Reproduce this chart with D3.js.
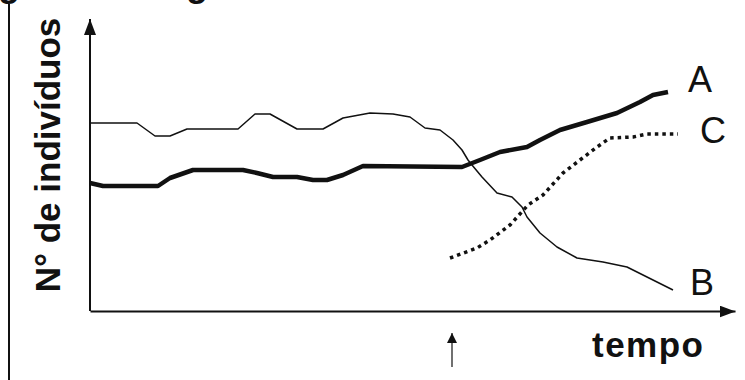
<!DOCTYPE html>
<html lang="pt">
  <head>
    <meta charset="UTF-8" />
    <title>N° de indivíduos x tempo</title>
    <style>
      body {
        margin: 0;
        background: #fff;
        font-family: 'Liberation Sans', Arial, sans-serif;
      }
      svg {
        display: block;
      }
      .axis path {
        stroke: #111;
        stroke-width: 2px;
      }
      .serie {
        fill: none;
        stroke: #111;
      }
      .lbl {
        font-size: 36px;
        fill: #111;
      }
      .titulo {
        font-size: 35px;
        font-weight: bold;
        fill: #111;
      }
    </style>
  </head>
  <body>
    <script src="https://d3js.org/d3.v7.min.js"></script>
    <script>
      // valores (tempo e nº de indivíduos em unidades arbitrárias)
      const tempoA = [0, 2.6, 13.6, 16, 20.6, 30.6, 33.4, 36.6, 41.4, 44.6, 47.4, 50.6, 54.6, 74.4, 78, 82, 87.4, 90, 94, 99.4, 105.4, 110, 112.6, 115.6];
      const valoresA = [64, 62.5, 62.5, 66.5, 70.5, 70.5, 69, 67, 67, 65.5, 65.5, 68, 72.5, 72, 75.5, 79.5, 82, 85.5, 90.5, 94.5, 99, 104.5, 108, 109.5];

      const tempoB = [0, 9.4, 13, 16, 19.4, 29.6, 33, 36, 41.4, 46.6, 50.6, 56, 60.6, 64, 67, 70, 72.6, 74.4, 75.6, 76.4, 78.4, 81.4, 84.4, 86.4, 87.4, 90, 93.4, 97.4, 102.6, 107.4, 111.4, 116.6];
      const valoresB = [94, 94, 87.5, 87.5, 91, 91, 98.5, 98.5, 91, 91, 96.5, 99, 98.5, 97, 91.5, 90.5, 85.5, 80.5, 75.5, 73, 67, 59, 57, 52, 47, 39, 32, 26.5, 24.5, 22, 17, 10.5];

      const tempoC = [72, 77.4, 80, 84, 87.6, 90.6, 94.6, 98, 101.4, 104, 108.6, 111.4, 117.6];
      const valoresC = [26.5, 31.5, 35.5, 43, 53, 58, 69, 75.5, 82, 86.5, 87, 88.5, 88.5];

      const rotulos = ['A', 'B', 'C'];
      const marcoTempo = 72.4; // seta pequena sob o eixo do tempo

      const W = 745;
      const H = 380;

      const x = d3.scaleLinear().domain([0, 129]).range([90, 735]);
      const y = d3.scaleLinear().domain([0, 146]).range([311, 19]);

      const svg = d3.select('body').append('svg').attr('width', W).attr('height', H);

      // pontas de seta
      const defs = svg.append('defs');
      defs
        .append('marker')
        .attr('id', 'seta')
        .attr('viewBox', '0 0 16 12')
        .attr('refX', 16)
        .attr('refY', 6)
        .attr('markerWidth', 16)
        .attr('markerHeight', 12)
        .attr('markerUnits', 'userSpaceOnUse')
        .attr('orient', 'auto')
        .append('path')
        .attr('d', 'M0,0L16,6L0,12Z')
        .attr('fill', '#111');
      defs
        .append('marker')
        .attr('id', 'setaPeq')
        .attr('viewBox', '0 0 10 10')
        .attr('refX', 10)
        .attr('refY', 5)
        .attr('markerWidth', 10)
        .attr('markerHeight', 10)
        .attr('markerUnits', 'userSpaceOnUse')
        .attr('orient', 'auto')
        .append('path')
        .attr('d', 'M0,0L10,5L0,10Z')
        .attr('fill', '#111');

      // restos do título cortado no topo (como na figura original)
      svg.append('text').attr('x', -2).attr('y', -4).attr('font-size', 36).attr('font-weight', 'bold').attr('fill', '#111').text('g');
      svg.append('text').attr('x', 186).attr('y', -4).attr('font-size', 36).attr('font-weight', 'bold').attr('fill', '#111').text('g');

      // borda esquerda
      svg.append('line').attr('x1', 9).attr('x2', 9).attr('y1', 4).attr('y2', H).attr('stroke', '#111').attr('stroke-width', 2);

      // eixos (sem marcas)
      const eixoX = svg
        .append('g')
        .attr('class', 'axis')
        .attr('transform', `translate(0,${y(0)})`)
        .call(d3.axisBottom(x).tickValues([]).tickSizeOuter(0));
      eixoX.select('.domain').attr('marker-end', 'url(#seta)');

      const eixoY = svg
        .append('g')
        .attr('class', 'axis')
        .attr('transform', `translate(${x(0)},0)`)
        .call(d3.axisLeft(y).tickValues([]).tickSizeOuter(0));
      eixoY.select('.domain').attr('d', `M0,${y(0)}V${y(146)}`).attr('marker-end', 'url(#seta)');

      // séries
      const linha = d3
        .line()
        .x((d) => x(d[0]))
        .y((d) => y(d[1]));

      const series = [
        { nome: 'A', pts: d3.zip(tempoA, valoresA), larg: 4.5, dash: null, dx: 20, dy: 0 },
        { nome: 'B', pts: d3.zip(tempoB, valoresB), larg: 1.5, dash: null, dx: 17, dy: 5 },
        { nome: 'C', pts: d3.zip(tempoC, valoresC), larg: 3.5, dash: '3.5 4', dx: 22, dy: 9 },
      ];

      svg
        .append('g')
        .selectAll('path')
        .data(series)
        .join('path')
        .attr('class', 'serie')
        .attr('d', (d) => linha(d.pts))
        .attr('stroke-width', (d) => d.larg)
        .attr('stroke-dasharray', (d) => d.dash)
        .attr('stroke-linejoin', 'round');

      svg
        .append('g')
        .selectAll('text')
        .data(series.filter((s) => rotulos.includes(s.nome)))
        .join('text')
        .attr('class', 'lbl')
        .attr('x', (d) => x(d.pts[d.pts.length - 1][0]) + d.dx)
        .attr('y', (d) => y(d.pts[d.pts.length - 1][1]) + d.dy)
        .text((d) => d.nome);

      // título do eixo Y
      svg
        .append('text')
        .attr('class', 'titulo')
        .attr('text-anchor', 'middle')
        .attr('transform', 'translate(60,155) rotate(-90)')
        .text('N° de indivíduos');

      // título do eixo X
      svg
        .append('text')
        .attr('class', 'titulo')
        .attr('font-size', 36)
        .attr('letter-spacing', 1.5)
        .attr('x', 592)
        .attr('y', 357)
        .text('tempo');

      // seta indicando o momento
      svg
        .append('line')
        .attr('x1', x(marcoTempo))
        .attr('x2', x(marcoTempo))
        .attr('y1', 367)
        .attr('y2', 333)
        .attr('stroke', '#111')
        .attr('stroke-width', 1.2)
        .attr('marker-end', 'url(#setaPeq)');
    </script>
  </body>
</html>
